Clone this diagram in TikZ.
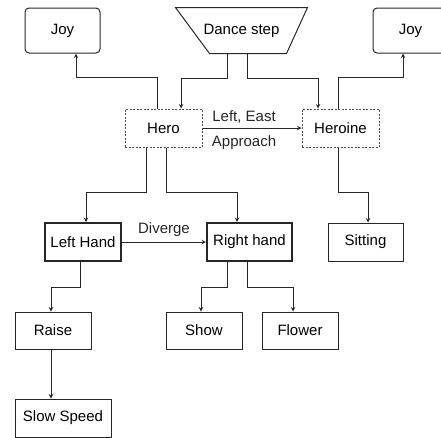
\documentclass[tikz,border=0pt]{standalone}
\usepackage{fontspec}
\setmainfont{Liberation Sans}

\tikzset{
  box/.style={draw=black!85,line width=1pt,minimum width=76pt,minimum height=37pt,inner sep=0pt,font=\fontsize{15}{18}\selectfont},
  dashbox/.style={box,draw=black!70,dash pattern=on 2pt off 1.5pt},
  thickbox/.style={box,line width=2pt},
  link/.style={black!85,line width=1pt,->,>=stealth}
}

\begin{document}
\begin{tikzpicture}[x=1pt,y=1pt]

\useasboundingbox (0,0) rectangle (441,-437);

\node [box,rounded corners=4pt,minimum width=75pt,minimum height=45pt] (joyl) at (62.5,-30.5) {Joy};

\node [box,draw=none,minimum width=131pt,minimum height=45pt] (dance) at (241.5,-30.5) {Dance step};
\draw[black!85,line width=1pt] (dance.north west) -- (dance.north east) -- ([xshift=-21pt]dance.south east) -- ([xshift=34pt]dance.south west) -- cycle;

\node [box,rounded corners=4pt,minimum width=75pt,minimum height=45pt] (joyr) at (410.5,-30.5) {Joy};


\node [dashbox,minimum width=77pt,minimum height=38pt] (hero) at (163.5,-128) {Hero};

\node [dashbox,minimum width=77pt,minimum height=38pt] (heroine) at (340.5,-128) {Heroine};


\node [thickbox,minimum height=38pt] (lefth) at (83,-242) {Left Hand};

\node [thickbox,minimum width=85pt,minimum height=38pt] (righth) at (249.5,-242) {Right hand};

\node [box,minimum width=75pt,minimum height=38pt] (sitting) at (365.5,-242) {Sitting};


\node [box] (raise) at (53,-330.5) {Raise};

\node [box] (show) at (204,-330.5) {Show};

\node [box] (flower) at (300,-330.5) {Flower};

\node [box,minimum width=96pt,minimum height=38pt] (slow) at (63,-418) {Slow Speed};


%top row
\draw[link] ([xshift=-6.5pt]hero.north) -- ++(0,31) -| ([xshift=13.5pt]joyl.south);
\draw[link] ([xshift=-14.5pt]dance.south) -- ++(0,-25) -| ([xshift=17.5pt]hero.north);
\draw[link] ([xshift=5.5pt]dance.south) -- ++(0,-25) -| ([xshift=-22.5pt]heroine.north);
\draw[link] ([xshift=-2.5pt]heroine.north) -- ++(0,31) -| ([xshift=-7.5pt]joyr.south);

\draw[link] (hero.east) -- (heroine.west)
  node [pos=0.42,above=1pt,font=\fontsize{15}{18}\selectfont] {Left, East}
  node [pos=0.42,below=4pt,font=\fontsize{15}{18}\selectfont] {Approach};

%middle row
\draw[link] ([xshift=-17.5pt]hero.south) -- ++(0,-45) -| ([xshift=3pt]lefth.north);
\draw[link] ([xshift=2.5pt]hero.south) -- ++(0,-45) -| ([xshift=-12.5pt]righth.north);
\draw[link] ([xshift=-2.5pt]heroine.south) -- ++(0,-45) -| ([xshift=2.5pt]sitting.north);

\draw[link] (lefth.east) -- (righth.west)
  node [midway,above=2pt,font=\fontsize{15}{18}\selectfont] {Diverge};

%bottom rows
\draw[link] ([xshift=-3pt]lefth.south) -- ++(0,-25) -| ([xshift=-2pt]raise.north);
\draw[link] ([xshift=-22.5pt]righth.south) -- ++(0,-25) -| ([xshift=-3pt]show.north);
\draw[link] ([xshift=-2.5pt]righth.south) -- ++(0,-25) -| ([xshift=-7pt]flower.north);
\draw[link] ([xshift=-2pt]raise.south) -- ([xshift=-12pt]slow.north);

\end{tikzpicture}
\end{document}
